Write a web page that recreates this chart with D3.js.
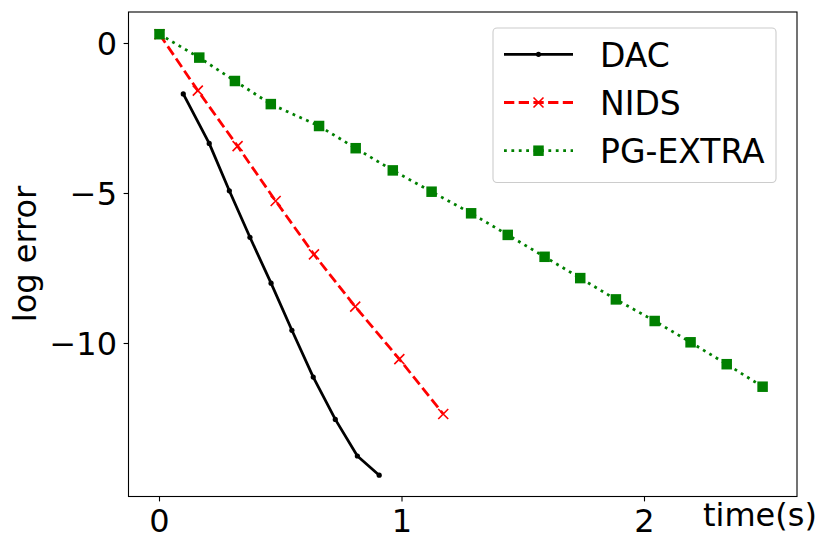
<!DOCTYPE html>
<html><head><meta charset="utf-8">
<script src="https://cdn.jsdelivr.net/npm/d3@7"></script>
<style>body{margin:0;background:#fff}svg{display:block}text{font-family:"DejaVu Sans",sans-serif}</style>
</head><body>
<svg id="c" width="830" height="551"></svg>
<script>
const dacX = [0.098,0.205,0.288,0.373,0.460,0.546,0.634,0.725,0.816,0.906];
const dacY = [-1.68,-3.33,-4.91,-6.46,-7.99,-9.56,-11.12,-12.53,-13.75,-14.39];
const nidsX = [0,0.158,0.322,0.479,0.637,0.807,0.989,1.170];
const nidsY = [0.31,-1.57,-3.42,-5.25,-7.03,-8.77,-10.52,-12.35];
const pgX = [0,0.164,0.311,0.459,0.658,0.809,0.962,1.122,1.285,1.436,1.588,1.735,1.882,2.042,2.19,2.339,2.487];
const pgY = [0.31,-0.47,-1.25,-2.02,-2.75,-3.49,-4.23,-4.94,-5.66,-6.38,-7.11,-7.82,-8.53,-9.25,-9.96,-10.69,-11.44];
const xTicks = [0,1,2];
const yTicks = [0,-5,-10];
const seriesNames = ["DAC","NIDS","PG-EXTRA"];

const svg = d3.select("#c");
const L=128.5, R=797, T=12, B=496.5;
const x = d3.scaleLinear().domain([0,1]).range([159.5,402]);
const y = d3.scaleLinear().domain([0,-5]).range([43.5,193.5]);
const fmt = v => v<0 ? "\u2212"+Math.abs(v) : ""+v;

const g = svg.append("g");
const line = d3.line().x(d=>x(d[0])).y(d=>y(d[1]));
const dac = dacX.map((v,i)=>[v,dacY[i]]);
const nids = nidsX.map((v,i)=>[v,nidsY[i]]);
const pg = pgX.map((v,i)=>[v,pgY[i]]);

g.append("path").datum(dac).attr("d",line).attr("fill","none").attr("stroke","#000").attr("stroke-width",2.78).attr("stroke-linejoin","round");
g.selectAll(".dd").data(dac).join("circle").attr("cx",d=>x(d[0])).attr("cy",d=>y(d[1])).attr("r",2.6).attr("fill","#000");

g.append("path").datum(nids).attr("d",line).attr("fill","none").attr("stroke","#ff0000").attr("stroke-width",2.78).attr("stroke-dasharray","10.3,4.4");
const xm = 5;
g.selectAll(".nx").data(nids).join("path").attr("d",d=>{const cx=x(d[0]),cy=y(d[1]);return `M${cx-xm},${cy-xm}L${cx+xm},${cy+xm}M${cx-xm},${cy+xm}L${cx+xm},${cy-xm}`;}).attr("stroke","#ff0000").attr("stroke-width",1.6).attr("fill","none");

g.append("path").datum(pg).attr("d",line).attr("fill","none").attr("stroke","#008000").attr("stroke-width",2.78).attr("stroke-dasharray","2.8,4.6");
const sq=10.5;
g.selectAll(".ps").data(pg).join("rect").attr("x",d=>x(d[0])-sq/2).attr("y",d=>y(d[1])-sq/2).attr("width",sq).attr("height",sq).attr("fill","#008000");

svg.append("rect").attr("x",L).attr("y",T).attr("width",R-L).attr("height",B-T).attr("fill","none").attr("stroke","#000").attr("stroke-width",1.1);

xTicks.forEach(t=>{
  svg.append("line").attr("x1",x(t)).attr("x2",x(t)).attr("y1",B).attr("y2",B+4.9).attr("stroke","#000").attr("stroke-width",1.1);
  svg.append("text").attr("x",x(t)).attr("y",532).attr("text-anchor","middle").attr("font-size",32).text(fmt(t));
});
yTicks.forEach(t=>{
  svg.append("line").attr("x1",L-4.9).attr("x2",L).attr("y1",y(t)).attr("y2",y(t)).attr("stroke","#000").attr("stroke-width",1.1);
  svg.append("text").attr("x",117).attr("y",y(t)).attr("dy","0.36em").attr("text-anchor","end").attr("font-size",32).text(fmt(t));
});
svg.append("text").attr("x",703).attr("y",526).attr("font-size",32).text("time(s)");
svg.append("text").attr("transform","translate(36,254) rotate(-90)").attr("text-anchor","middle").attr("font-size",32).text("log error");

const lg = svg.append("g");
lg.append("rect").attr("x",493).attr("y",28).attr("width",283).attr("height",154.5).attr("rx",4).attr("fill","#fff").attr("fill-opacity",0.8).attr("stroke","#cccccc").attr("stroke-width",1.1);
const rows=[54.3,102.5,150.7];
const styles=[{c:"#000",d:null},{c:"#ff0000",d:"10.3,4.4"},{c:"#008000",d:"2.8,4.6"}];
seriesNames.forEach((n,i)=>{
  const yy=rows[i];
  const p=lg.append("line").attr("x1",504).attr("x2",573).attr("y1",yy).attr("y2",yy).attr("stroke",styles[i].c).attr("stroke-width",2.78);
  if(styles[i].d) p.attr("stroke-dasharray",styles[i].d);
  const cx=538.5;
  if(i===0) lg.append("circle").attr("cx",cx).attr("cy",yy).attr("r",2.6).attr("fill","#000");
  if(i===1) lg.append("path").attr("d",`M${cx-xm},${yy-xm}L${cx+xm},${yy+xm}M${cx-xm},${yy+xm}L${cx+xm},${yy-xm}`).attr("stroke","#ff0000").attr("stroke-width",1.6);
  if(i===2) lg.append("rect").attr("x",cx-sq/2).attr("y",yy-sq/2).attr("width",sq).attr("height",sq).attr("fill","#008000");
  lg.append("text").attr("x",600).attr("y",yy+12.4).attr("font-size",33).text(n);
});
</script>
</body></html>
